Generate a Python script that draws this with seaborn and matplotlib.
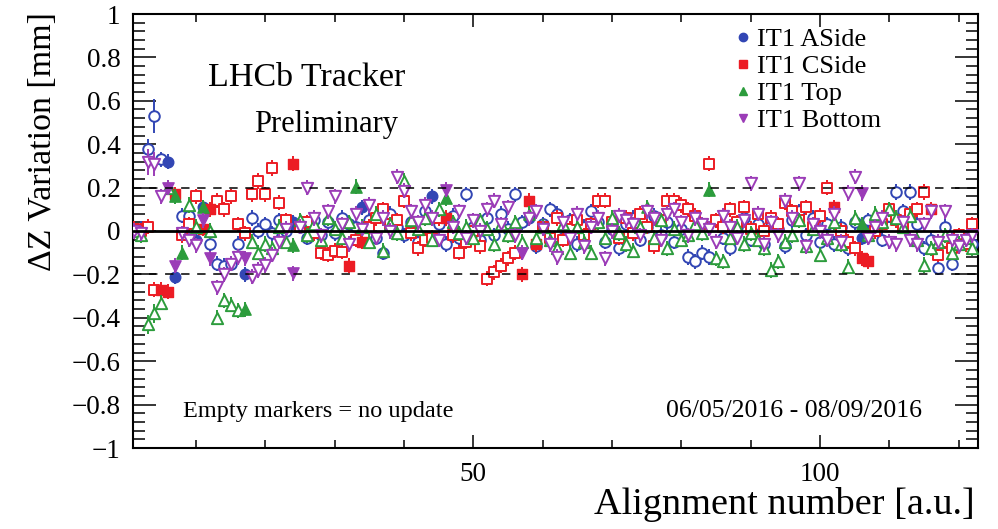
import matplotlib
matplotlib.use("Agg")
import matplotlib.pyplot as plt
import numpy as np
import pandas as pd
import seaborn as sns
from matplotlib.lines import Line2D
from matplotlib.ticker import MultipleLocator, FixedLocator, FuncFormatter

# ---- data: z-variation of the four IT1 boxes per alignment ----
alignment = list(range(1, 123))

aside = [0.00, 0.01, 0.38, 0.53, 0.33, 0.32, -0.21, 0.07, 0.07, -0.04,
         0.11, -0.06, -0.15, -0.16, -0.15, -0.06, -0.20, 0.06, 0.00, 0.03,
         -0.01, 0.05, 0.00, 0.04, 0.02, -0.03, 0.05, -0.02, 0.04, -0.01,
         0.06, 0.03, 0.02, 0.11, 0.05, -0.03, -0.10, 0.08, 0.02, -0.02,
         0.04, -0.05, 0.09, 0.16, 0.03, -0.06, 0.07, -0.03, 0.17, 0.02,
         -0.04, 0.06, -0.02, 0.08, 0.01, 0.17, 0.04, 0.06, -0.07, 0.03,
         0.10, 0.08, -0.03, 0.05, -0.06, 0.02, 0.09, 0.04, -0.05, 0.01,
         -0.08, 0.03, 0.06, -0.04, 0.02, 0.07, -0.02, 0.04, -0.05, 0.01,
         -0.12, -0.14, -0.10, -0.12, 0.05, -0.03, -0.08, 0.02, 0.06, -0.04,
         0.03, -0.06, 0.04, 0.01, -0.07, 0.05, 0.09, -0.02, 0.06, -0.05,
         0.03, -0.06, 0.02, -0.08, 0.04, -0.03, 0.05, 0.01, -0.04, 0.07,
         0.18, 0.09, 0.18, 0.03, -0.08, -0.04, -0.17, 0.02, -0.15, -0.05,
         -0.03, -0.06]
aside_updated = [6, 7, 10, 11, 17, 24, 34, 44, 58, 106]

cside = [0.01, 0.00, 0.02, -0.27, -0.27, -0.28, 0.17, -0.02, 0.03, 0.16,
         0.01, 0.10, 0.14, 0.10, 0.16, 0.03, -0.01, 0.17, 0.23, 0.17,
         0.29, 0.13, 0.05, 0.31, 0.02, 0.04, -0.01, -0.10, -0.11, -0.09,
         -0.095, -0.16, -0.04, -0.05, 0.02, 0.06, 0.10, 0.03, 0.05, 0.14,
         -0.01, -0.08, -0.04, -0.03, 0.06, 0.06, -0.02, -0.10, -0.05, 0.00,
         -0.07, -0.22, -0.19, -0.16, -0.125, -0.10, -0.20, 0.14, -0.06, 0.02,
         -0.03, 0.06, -0.04, 0.01, 0.05, -0.02, 0.03, 0.14, 0.14, 0.04,
         -0.03, 0.06, -0.01, 0.08, 0.02, -0.07, 0.05, 0.14, 0.14, 0.12,
         0.10, 0.07, 0.03, 0.31, 0.05, 0.02, 0.10, 0.04, 0.11, 0.01,
         0.08, 0.00, 0.06, 0.03, 0.13, 0.09, 0.05, 0.11, 0.02, 0.07,
         0.20, 0.11, 0.00, -0.05, -0.08, -0.125, -0.14, 0.00, 0.03, 0.10,
         0.05, 0.02, 0.08, 0.10, 0.18, 0.10, -0.11, -0.05, -0.08, -0.02,
         -0.06, 0.03]
cside_updated = [5, 6, 7, 11, 12, 24, 32, 34, 46, 57, 58, 59, 102, 106, 107, 116]

top = [0.00, -0.02, -0.43, -0.38, -0.33, 0.20, 0.16, -0.10, 0.12, 0.02,
       0.11, 0.00, -0.40, -0.32, -0.34, -0.365, -0.36, -0.05, -0.10, -0.06,
       -0.08, 0.02, -0.05, -0.065, 0.05, -0.02, 0.03, -0.04, 0.06, 0.01,
       -0.03, 0.04, 0.205, 0.02, -0.05, 0.08, -0.09, 0.03, -0.01, 0.23,
       0.05, 0.01, 0.06, -0.04, 0.10, 0.15, 0.04, -0.01, 0.02, -0.03,
       0.05, 0.01, -0.06, 0.03, -0.02, 0.04, -0.05, 0.08, -0.03, 0.02,
       -0.04, -0.08, 0.03, -0.10, 0.02, -0.05, -0.10, 0.04, -0.03, 0.06,
       -0.01, -0.06, -0.09, 0.02, 0.11, -0.03, 0.05, -0.08, 0.01, -0.04,
       -0.02, 0.03, -0.01, 0.19, -0.125, -0.14, -0.03, 0.02, -0.06, -0.01,
       -0.04, -0.08, -0.18, -0.14, -0.05, -0.02, 0.05, -0.07, 0.01, -0.11,
       -0.03, 0.04, -0.06, -0.165, 0.06, 0.03, -0.02, 0.08, 0.04, 0.10,
       0.06, 0.02, 0.07, -0.04, -0.157, -0.08, -0.05, -0.02, -0.10, -0.06,
       -0.03, -0.08]
top_updated = [7, 8, 11, 17, 24, 33, 46, 58, 75, 84, 106]

bottom = [0.00, -0.01, 0.32, 0.31, 0.16, 0.20, -0.16, -0.01, -0.04, -0.065,
          0.05, -0.125, -0.26, -0.20, -0.15, -0.12, -0.125, -0.21, -0.18, -0.157,
          -0.11, -0.05, 0.01, -0.195, 0.02, 0.20, 0.06, -0.02, 0.09, 0.16,
          0.03, -0.06, 0.08, 0.01, 0.12, -0.03, 0.06, 0.00, 0.25, 0.185,
          0.09, 0.04, 0.12, 0.06, -0.04, 0.19, 0.02, 0.09, -0.03, 0.05,
          0.00, 0.10, 0.14, 0.03, 0.11, -0.02, -0.10, 0.06, 0.09, 0.01,
          -0.06, -0.12, 0.04, -0.03, 0.08, -0.07, 0.02, 0.06, -0.125, 0.00,
          0.07, 0.05, 0.03, -0.02, 0.09, 0.06, -0.04, 0.08, 0.10, 0.04,
          -0.02, 0.06, 0.03, 0.01, -0.05, 0.07, 0.02, -0.03, 0.05, 0.22,
          0.08, -0.06, 0.04, -0.02, 0.14, 0.06, 0.22, -0.07, 0.03, 0.00,
          -0.04, 0.08, -0.05, 0.175, 0.25, 0.175, -0.03, 0.02, 0.06, -0.05,
          -0.06, 0.04, -0.04, -0.06, 0.03, 0.09, -0.05, 0.09, -0.04, -0.07,
          -0.04, -0.02]
bottom_updated = [6, 7, 11, 12, 17, 24, 46, 57, 106]

# uncertainties: common value plus the larger ones of the first alignments
base_error = 0.035
large_errors = {
    "IT1 ASide": {3: 0.045, 4: 0.08, 5: 0.035},
    "IT1 CSide": {},
    "IT1 Top": {3: 0.045, 4: 0.045},
    "IT1 Bottom": {3: 0.06, 4: 0.055},
}

series_names = ["IT1 ASide", "IT1 CSide", "IT1 Top", "IT1 Bottom"]
series_values = [aside, cside, top, bottom]
series_updated = [aside_updated, cside_updated, top_updated, bottom_updated]

# ---- styling ----
colors = {"IT1 ASide": "#3246b4", "IT1 CSide": "#ec1c24",
          "IT1 Top": "#2c9c3c", "IT1 Bottom": "#9b3cb7"}
markers = {"IT1 ASide": "o", "IT1 CSide": "s", "IT1 Top": "^", "IT1 Bottom": "v"}
msize = {"IT1 ASide": 58, "IT1 CSide": 56, "IT1 Top": 66, "IT1 Bottom": 66}

sns.set_theme(style="ticks")
plt.rcParams["font.family"] = ["Liberation Serif", "DejaVu Serif"]
plt.rcParams["axes.unicode_minus"] = True
for key in ("text.color", "axes.labelcolor", "xtick.color", "ytick.color",
            "axes.edgecolor"):
    plt.rcParams[key] = "black"

W, H = 998, 529
fig = plt.figure(figsize=(W / 100, H / 100), dpi=100)
L, R, T, B = 133, 978, 14, 448
ax = fig.add_axes([L / W, 1 - B / H, (R - L) / W, (B - T) / H])

frames = []
for name, vals, upd in zip(series_names, series_values, series_updated):
    df = pd.DataFrame({"alignment": alignment, "dz": vals})
    df["series"] = name
    df["updated"] = df["alignment"].isin(upd)
    df["err"] = [large_errors[name].get(a, base_error) for a in alignment]
    frames.append(df)
data = pd.concat(frames, ignore_index=True)

for i, name in enumerate(series_names):
    df = data[data["series"] == name]
    c = colors[name]
    z = 3 + i
    ax.errorbar(df["alignment"], df["dz"], yerr=df["err"], fmt="none",
                ecolor=c, elinewidth=1.4, capsize=0, zorder=z)
    sns.scatterplot(data=df[~df["updated"]], x="alignment", y="dz",
                    marker=markers[name], s=msize[name], color=c,
                    facecolor="white", edgecolor=c, linewidth=1.4,
                    legend=False, ax=ax, zorder=z + 0.1)
    sns.scatterplot(data=df[df["updated"]], x="alignment", y="dz",
                    marker=markers[name], s=msize[name], color=c,
                    edgecolor=c, linewidth=1.0,
                    legend=False, ax=ax, zorder=z + 0.2)

# reference lines
ax.axhline(0, color="black", lw=2.0, zorder=10)
for yv in (0.2, -0.2):
    ax.axhline(yv, color="black", lw=1.1, ls=(0, (5.5, 5.0)), zorder=10)

ax.set_xlim(0.9, 122.8)
ax.set_ylim(-1, 1)
ax.set_xlabel("")
ax.set_ylabel("")

ax.xaxis.set_major_locator(FixedLocator([50, 100]))
ax.xaxis.set_minor_locator(MultipleLocator(10))
ax.yaxis.set_major_locator(MultipleLocator(0.2))
ax.yaxis.set_minor_locator(MultipleLocator(0.04))


def ylab(v, pos):
    if abs(v) < 1e-9:
        return "0"
    s = f"{v:.1f}" if abs(abs(v) - 1) > 1e-9 else f"{v:.0f}"
    return s.replace("-", "\u2212")


ax.yaxis.set_major_formatter(FuncFormatter(ylab))
ax.tick_params(which="both", direction="in", top=True, right=True,
               width=1.1, colors="black", labelcolor="black", labelsize=19.5)
ax.tick_params(axis="y", which="major", length=16.5, pad=9)
ax.tick_params(axis="y", which="minor", length=8.5)
ax.tick_params(axis="x", which="major", length=9.5, pad=10)
ax.tick_params(axis="x", which="minor", length=6)
for sp in ax.spines.values():
    sp.set_linewidth(1.5)
    sp.set_color("black")
    sp.set_visible(True)


def fx(px):
    return px / W


def fy(py):
    return 1 - py / H


fig.text(fx(43), fy(12), "\u0394Z Variation [mm]", rotation=90,
         ha="center", va="top", fontsize=24.5, color="black")
fig.text(fx(975), fy(514), "Alignment number [a.u.]", ha="right",
         va="baseline", fontsize=27.5, color="black")

fig.text(fx(307), fy(86), "LHCb Tracker", ha="center", va="baseline",
         fontsize=24.5, color="black")
fig.text(fx(326), fy(132), "Preliminary", ha="center", va="baseline",
         fontsize=22, color="black")
fig.text(fx(183), fy(417), "Empty markers = no update", ha="left",
         va="baseline", fontsize=17.5, color="black")
fig.text(fx(922), fy(417), "06/05/2016 - 08/09/2016", ha="right",
         va="baseline", fontsize=18.5, color="black")

handles = [Line2D([], [], marker=markers[n], color=colors[n], ls="none",
                  markersize=6) for n in series_names]
leg = ax.legend(handles, series_names, loc="upper left",
                bbox_to_anchor=(fx(731), fy(28)), bbox_transform=fig.transFigure,
                frameon=False, fontsize=19, handlelength=0.9, handletextpad=0.1,
                labelspacing=0.13, borderpad=0, borderaxespad=0)
for t in leg.get_texts():
    t.set_color("black")

fig.savefig("out.png", dpi=100)
